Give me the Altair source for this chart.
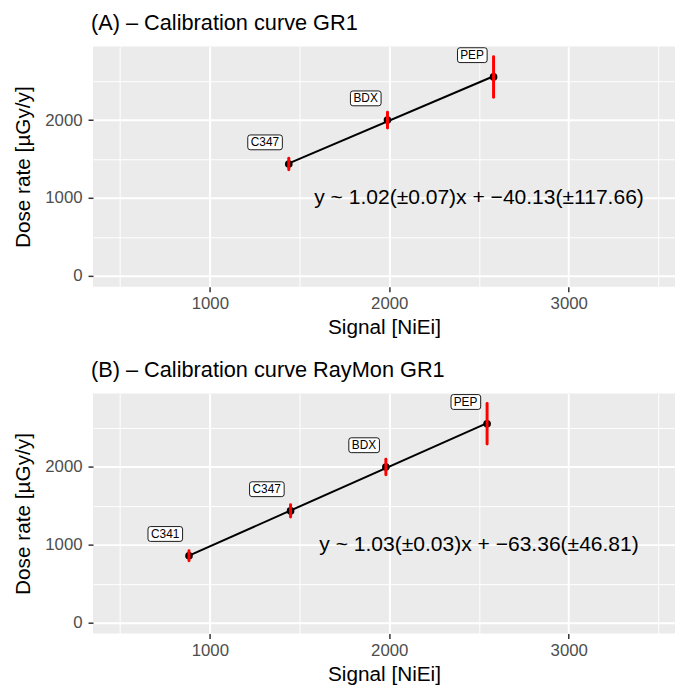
import altair as alt
import pandas as pd

FONT = "Liberation Sans"

# ---- data ----
A_labels = ["C347", "BDX", "PEP"]
A_signal = [1440, 1990, 2581]
A_dose = [1435, 2000, 2555]
A_err = [74, 102, 260]
A_eq = ["y ~ 1.02(\u00b10.07)x + \u221240.13(\u00b1117.66)"]
A_title = ["(A) \u2013 Calibration curve GR1"]

B_labels = ["C341", "C347", "BDX", "PEP"]
B_signal = [884, 1450, 1981, 2545]
B_dose = [860, 1435, 2000, 2555]
B_err = [64, 79, 99, 260]
B_eq = ["y ~ 1.03(\u00b10.03)x + \u221263.36(\u00b146.81)"]
B_title = ["(B) \u2013 Calibration curve RayMon GR1"]

EQ_X = [2500]
EQ_Y = [1000]

X_TICKS = [500, 1000, 1500, 2000, 2500, 3000, 3500]
Y_TICKS = [0, 500, 1000, 1500, 2000, 2500]

# label box widths (px), style only
BOX_W = {"C341": 35, "C347": 35, "BDX": 31, "PEP": 30}


def box_path(w, right=-6.5, bottom=-14.5, h=15, r=2.5):
    L = right - w
    R = right
    T = bottom - h
    B = bottom
    return (f"M{L+r},{T} H{R-r} Q{R},{T} {R},{T+r} V{B-r} Q{R},{B} {R-r},{B} "
            f"H{L+r} Q{L},{B} {L},{B-r} V{T+r} Q{L},{T} {L+r},{T} Z")


shape_domain = list(BOX_W.keys())
shape_range = [box_path(BOX_W[k]) for k in shape_domain]

major = "datum.value % 1000 === 0"


def panel(labels, signal, dose, err, eq, title):
    df = pd.DataFrame({"label": labels, "signal": signal, "dose": dose, "err": err})
    eqdf = pd.DataFrame({"x": EQ_X, "y": EQ_Y, "t": eq})
    tdf = pd.DataFrame({"t": title})

    xscale = alt.Scale(domain=[349, 3592], nice=False, zero=False)
    yscale = alt.Scale(domain=[-140, 2944], nice=False, zero=False)
    xaxis = alt.Axis(values=X_TICKS, format="d", title="Signal [NiEi]",
                     labelExpr=f"{major} ? datum.label : ''",
                     tickOpacity={"expr": f"{major} ? 1 : 0"},
                     gridWidth={"expr": f"{major} ? 2 : 1"})
    yaxis = alt.Axis(values=Y_TICKS, format="d", title="Dose rate [\u00b5Gy/y]",
                     labelExpr=f"{major} ? datum.label : ''",
                     tickOpacity={"expr": f"{major} ? 1 : 0"},
                     gridWidth={"expr": f"{major} ? 2 : 1"})

    x = alt.X("signal:Q", scale=xscale, axis=xaxis)
    y = alt.Y("dose:Q", scale=yscale, axis=yaxis)

    base = alt.Chart(df)
    line = base.transform_regression("signal", "dose").mark_line(
        color="black", strokeWidth=2).encode(x=x, y=y)
    pts = base.mark_circle(size=60, color="black", opacity=1).encode(x=x, y=y)
    bars = base.transform_calculate(
        lo="datum.dose - datum.err", hi="datum.dose + datum.err"
    ).mark_rule(color="red", strokeWidth=3, strokeCap="round").encode(
        x=x, y=alt.Y("lo:Q", scale=yscale, axis=yaxis), y2="hi:Q")
    boxes = base.mark_point(filled=True, fill="white", stroke="black",
                            strokeWidth=0.9, size=4, opacity=1).encode(
        x=x, y=y,
        shape=alt.Shape("label:N", scale=alt.Scale(domain=shape_domain, range=shape_range),
                        legend=None))
    texts = base.mark_text(align="right", baseline="middle", dx=-9.8, dy=-22,
                           fontSize=12, font=FONT, color="black").encode(
        x=x, y=y, text="label:N")
    eqt = alt.Chart(eqdf).mark_text(fontSize=21.3, font=FONT, color="black",
                                    align="center", baseline="middle").encode(
        x=alt.X("x:Q", scale=xscale, axis=xaxis),
        y=alt.Y("y:Q", scale=yscale, axis=yaxis),
        text="t:N")
    ttl = alt.Chart(tdf).mark_text(fontSize=22, font=FONT, color="black",
                                   align="left", baseline="alphabetic").encode(
        x=alt.value(-2), y=alt.value(-17), text="t:N")

    return alt.layer(line, pts, bars, boxes, texts, eqt, ttl).properties(
        width=589, height=243)


chart = alt.vconcat(
    panel(A_labels, A_signal, A_dose, A_err, A_eq, A_title),
    panel(B_labels, B_signal, B_dose, B_err, B_eq, B_title),
    spacing=22,
).properties(
    padding={"left": 5, "top": 0, "right": 0, "bottom": 0}
).configure_view(
    fill="#EBEBEB", strokeWidth=0
).configure_axis(
    domain=False,
    gridColor="white",
    tickColor="#333333", tickWidth=1.5, tickSize=5,
    labelColor="#4D4D4D", labelFontSize=17, labelFont=FONT,
    titleColor="black", titleFontSize=21, titleFont=FONT, titleFontWeight="normal",
).configure_axisX(titlePadding=5, labelPadding=4).configure_axisY(titlePadding=11, labelPadding=6)

chart.save("out.html", embed_options={"renderer": "svg", "actions": False})
